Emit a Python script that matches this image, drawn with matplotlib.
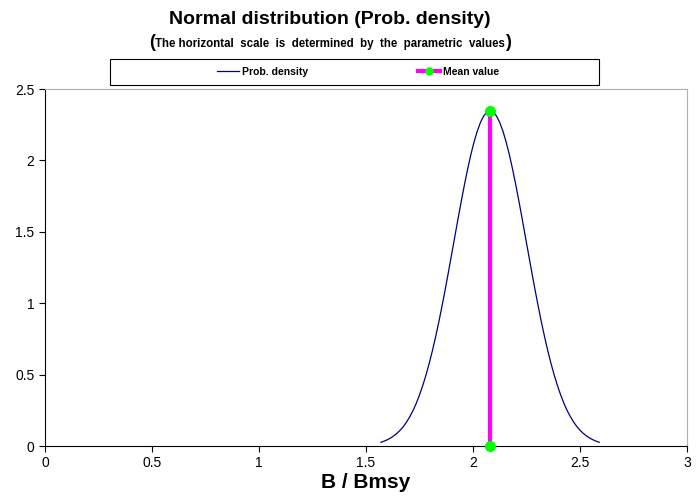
import matplotlib
matplotlib.use('Agg')
from matplotlib import pyplot as plt
from matplotlib.patches import Rectangle
from matplotlib.lines import Line2D

plt.rcParams['font.family'] = ['Liberation Sans', 'DejaVu Sans']

# probability density curve
b_ratio = [1.570, 1.585, 1.600, 1.615, 1.630, 1.645, 1.660, 1.675, 1.690, 1.705,
           1.720, 1.735, 1.750, 1.765, 1.780, 1.795, 1.810, 1.825, 1.840, 1.855,
           1.870, 1.885, 1.900, 1.915, 1.930, 1.945, 1.960, 1.975, 1.990, 2.005,
           2.020, 2.035, 2.050, 2.065, 2.080, 2.095, 2.110, 2.125, 2.140, 2.155,
           2.170, 2.185, 2.200, 2.215, 2.230, 2.245, 2.260, 2.275, 2.290, 2.305,
           2.320, 2.335, 2.350, 2.365, 2.380, 2.395, 2.410, 2.425, 2.440, 2.455,
           2.470, 2.485, 2.500, 2.515, 2.530, 2.545, 2.560, 2.575, 2.590]
density = [0.026, 0.034, 0.044, 0.056, 0.071, 0.089, 0.111, 0.137, 0.169, 0.206,
           0.249, 0.299, 0.357, 0.422, 0.495, 0.576, 0.665, 0.762, 0.866, 0.978,
           1.094, 1.216, 1.340, 1.465, 1.590, 1.712, 1.829, 1.939, 2.040, 2.129,
           2.205, 2.266, 2.311, 2.338, 2.347, 2.338, 2.311, 2.266, 2.205, 2.129,
           2.040, 1.939, 1.829, 1.712, 1.590, 1.465, 1.340, 1.216, 1.094, 0.978,
           0.866, 0.762, 0.665, 0.576, 0.495, 0.422, 0.357, 0.299, 0.249, 0.206,
           0.169, 0.137, 0.111, 0.089, 0.071, 0.056, 0.044, 0.034, 0.026]

mean_x = [2.08, 2.08]
mean_y = [0, 2.347]

fig = plt.figure(figsize=(6.96, 4.99), dpi=100)
ax = fig.add_axes([0.0647, 0.1062, 0.9223, 0.7154])

ax.plot(b_ratio, density, color='#000080', lw=0.9, label='Prob. density')
ax.plot(mean_x, mean_y, color='#ff00ff', lw=3.0, marker='o', markersize=7,
        markerfacecolor='#00ff00', markeredgecolor='#00ff00',
        label='Mean value', clip_on=False, zorder=5)

ax.set_xlim(0, 3)
ax.set_ylim(0, 2.5)
ax.set_xticks([0, 0.5, 1, 1.5, 2, 2.5, 3])
ax.set_xticklabels(['0', '0.5', '1', '1.5', '2', '2.5', '3'])
ax.set_yticks([0, 0.5, 1, 1.5, 2, 2.5])
ax.set_yticklabels(['0', '0.5', '1', '1.5', '2', '2.5'])
ax.tick_params(direction='out', length=4, width=0.8, labelsize=10)
for s in ['top', 'right']:
    ax.spines[s].set_color('#b0b0b0')
for s in ['left', 'bottom']:
    ax.spines[s].set_color('black')
ax.set_xlabel('B / Bmsy', fontsize=15, fontweight='bold', labelpad=2)

fig.text(0.474, 0.960, 'Normal distribution (Prob. density)', ha='center',
         va='center', fontsize=14, fontweight='bold')
sub = fig.text(0.474, 0.912, 'The horizontal  scale  is  determined  by  the  parametric  values',
               ha='center', va='center', fontsize=8.3, fontweight='bold')
fig.canvas.draw()
bb = sub.get_window_extent().transformed(fig.transFigure.inverted())
fig.text(bb.x0, 0.915, '(', ha='right', va='center', fontsize=13, fontweight='bold')
fig.text(bb.x1, 0.915, ')', ha='left', va='center', fontsize=13, fontweight='bold')

# legend box
fig.patches.append(Rectangle((110 / 696, 1 - 85 / 499), 489 / 696, 26 / 499,
                             transform=fig.transFigure, fill=False,
                             edgecolor='black', lw=0.8))
handles = [Line2D([], [], color='#000080', lw=0.9),
           Line2D([], [], color='#ff00ff', lw=3.0, marker='o', markersize=5,
                  markerfacecolor='#00ff00', markeredgecolor='#00ff00')]
fig.legend(handles, ['Prob. density', 'Mean value'], ncol=2, frameon=False,
           loc='center', bbox_to_anchor=(358 / 696, 1 - 72 / 499),
           prop={'size': 7.5, 'weight': 'bold'}, handlelength=2.1,
           handletextpad=0.3, columnspacing=10.5, markerfirst=True)

fig.savefig('out.png', dpi=100)
